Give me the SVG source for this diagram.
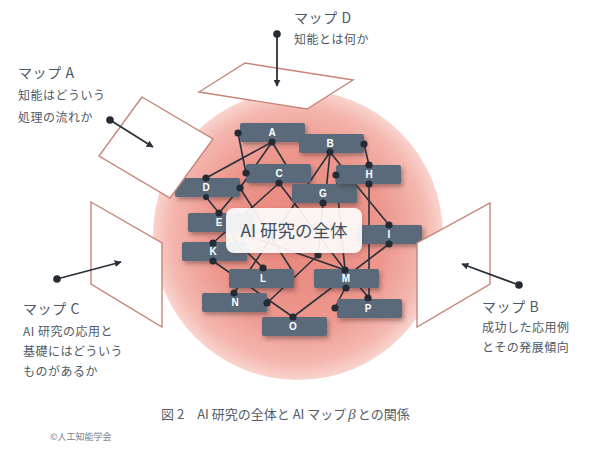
<svg xmlns="http://www.w3.org/2000/svg" width="590" height="450" viewBox="0 0 590 450">
<defs>
<radialGradient id="glow" cx="0.5" cy="0.5" r="0.5">
<stop offset="0" stop-color="#e8857a"/>
<stop offset="0.6" stop-color="#ed978d"/>
<stop offset="0.88" stop-color="#f4b7af"/>
<stop offset="1" stop-color="#f9d4ce"/>
</radialGradient>
<filter id="sh" x="-20%" y="-40%" width="150%" height="200%">
<feDropShadow dx="2" dy="3" stdDeviation="2" flood-color="#3a2020" flood-opacity="0.38"/>
</filter>
<filter id="sh2" x="-20%" y="-30%" width="140%" height="170%">
<feDropShadow dx="1" dy="2" stdDeviation="2.5" flood-color="#6a3030" flood-opacity="0.25"/>
</filter>
<marker id="ah" viewBox="0 0 10 10" refX="9" refY="5" markerWidth="7" markerHeight="7" orient="auto" markerUnits="userSpaceOnUse">
<path d="M0,0 L10,5 L0,10 z" fill="#2a313b"/>
</marker>
</defs>
<style>
.node rect{fill:#5a6a7a;filter:url(#sh)}
.node text{fill:#ffffff;font-family:"Liberation Sans",Arial,sans-serif;font-weight:bold;font-size:10px;text-anchor:middle}
.edges line{stroke:#29313b;stroke-width:1.6}
.dot{fill:#242b35}
.plane{fill:#ffffff;stroke:#c7857a;stroke-width:1.4;stroke-linejoin:miter}
.arrow{stroke:#2a313b;stroke-width:1.8;marker-end:url(#ah)}
.t1{font-family:"Noto Sans CJK JP","Noto Sans",sans-serif;font-size:14px;fill:#4f5a66;letter-spacing:0.6px}
.t2{font-family:"Noto Sans CJK JP","Noto Sans",sans-serif;font-size:12px;fill:#4f5a66;letter-spacing:0.5px}
.cap{font-family:"Noto Sans CJK JP","Noto Sans",sans-serif;font-size:13px;fill:#555d66}
.copy{font-family:"Noto Sans CJK JP","Noto Sans",sans-serif;font-size:9px;fill:#7a8088}
</style>

<circle cx="298" cy="235" r="145" fill="url(#glow)"/>

<g id="connectors" class="edges">
<line x1="238" y1="133" x2="246" y2="173"/>
<line x1="272" y1="142" x2="206" y2="178"/>
<line x1="272" y1="142" x2="240" y2="188"/>
<line x1="240" y1="188" x2="219" y2="213"/>
<line x1="272" y1="142" x2="288" y2="168"/>
<line x1="206" y1="197" x2="219" y2="213"/>
<line x1="279" y1="183" x2="213" y2="243"/>
<line x1="240" y1="188" x2="293" y2="272"/>
<line x1="279" y1="183" x2="345" y2="270"/>
<line x1="330" y1="152" x2="234" y2="293"/>
<line x1="330" y1="152" x2="326" y2="192"/>
<line x1="330" y1="152" x2="346" y2="172"/>
<line x1="364" y1="144" x2="369" y2="165"/>
<line x1="369" y1="184" x2="369" y2="298"/>
<line x1="336" y1="175" x2="345" y2="270"/>
<line x1="352" y1="180" x2="389" y2="225"/>
<line x1="389" y1="244" x2="293" y2="317"/>
<line x1="213" y1="261" x2="293" y2="317"/>
<line x1="267" y1="303" x2="318" y2="255"/>
<line x1="323" y1="203" x2="318" y2="255"/>
<line x1="345" y1="288" x2="335" y2="308"/>
<line x1="345" y1="270" x2="369" y2="298"/>
<line x1="240" y1="233" x2="345" y2="270"/>
<line x1="232" y1="237" x2="263" y2="268"/>
</g>

<g id="node-A" class="node"><rect x="240" y="123" width="65" height="19" rx="2"/><text x="272" y="136">A</text></g>
<g id="node-B" class="node"><rect x="299" y="134" width="65" height="19" rx="2"/><text x="330" y="147">B</text></g>
<g id="node-C" class="node"><rect x="246" y="164" width="65" height="19" rx="2"/><text x="279" y="177">C</text></g>
<g id="node-D" class="node"><rect x="175" y="178" width="65" height="19" rx="2"/><text x="206" y="191">D</text></g>
<g id="node-G" class="node"><rect x="292" y="184" width="65" height="19" rx="2"/><text x="323" y="197">G</text></g>
<g id="node-H" class="node"><rect x="336" y="165" width="65" height="19" rx="2"/><text x="369" y="178">H</text></g>
<g id="node-E" class="node"><rect x="188" y="213" width="65" height="19" rx="2"/><text x="219" y="226">E</text></g>
<g id="node-I" class="node"><rect x="357" y="225" width="65" height="19" rx="2"/><text x="389" y="238">I</text></g>
<g id="node-K" class="node"><rect x="182" y="242" width="65" height="19" rx="2"/><text x="213" y="255">K</text></g>
<g id="node-L" class="node"><rect x="229" y="269" width="65" height="19" rx="2"/><text x="263" y="282">L</text></g>
<g id="node-M" class="node"><rect x="314" y="269" width="65" height="19" rx="2"/><text x="346" y="282">M</text></g>
<g id="node-N" class="node"><rect x="202" y="293" width="65" height="19" rx="2"/><text x="235" y="306">N</text></g>
<g id="node-P" class="node"><rect x="337" y="299" width="65" height="19" rx="2"/><text x="368" y="312">P</text></g>
<g id="node-O" class="node"><rect x="262" y="317" width="65" height="19" rx="2"/><text x="293" y="330">O</text></g>

<g id="dots" class="dot">
<circle cx="238" cy="133" r="3.6"/>
<circle cx="272" cy="142" r="3.6"/>
<circle cx="330" cy="152" r="3.6"/>
<circle cx="364" cy="144" r="3.6"/>
<circle cx="246" cy="173" r="3.6"/>
<circle cx="279" cy="183" r="3.6"/>
<circle cx="206" cy="178" r="3.6"/>
<circle cx="240" cy="188" r="3.6"/>
<circle cx="206" cy="197" r="3"/>
<circle cx="219" cy="213" r="3.6"/>
<circle cx="323" cy="203" r="3.6"/>
<circle cx="369" cy="165" r="3.6"/>
<circle cx="369" cy="184" r="3.6"/>
<circle cx="336" cy="175" r="3.6"/>
<circle cx="389" cy="225" r="3.6"/>
<circle cx="389" cy="244" r="3.6"/>
<circle cx="213" cy="243" r="3.6"/>
<circle cx="213" cy="261" r="3.6"/>
<circle cx="263" cy="268" r="3.6"/>
<circle cx="345" cy="270" r="3.6"/>
<circle cx="346" cy="288" r="3.6"/>
<circle cx="234" cy="293" r="3.6"/>
<circle cx="267" cy="303" r="3.6"/>
<circle cx="293" cy="317" r="3.6"/>
<circle cx="368" cy="298" r="3.6"/>
<circle cx="335" cy="308" r="3.6"/>
<circle cx="318" cy="255" r="3.6"/>
</g>

<g id="center-label">
<rect x="226" y="208" width="136" height="45" rx="8" fill="#ffffff" fill-opacity="0.9" filter="url(#sh2)"/>
<text x="294" y="237" text-anchor="middle" font-family="Noto Sans CJK JP, Noto Sans, sans-serif" font-size="17.5" fill="#434e59">AI 研究の全体</text>
</g>

<g id="map-A">
<polygon class="plane" points="142,97 213,139 170,198 99,156"/>
<line class="arrow" x1="110" y1="120" x2="153" y2="147"/>
<circle class="dot" cx="110" cy="120" r="3.8"/>
<text class="t1" x="18" y="78">マップ A</text>
<text class="t2" x="18" y="100">知能はどういう</text>
<text class="t2" x="18" y="122">処理の流れか</text>
</g>

<g id="map-D">
<polygon class="plane" points="199,92 245,63 353,80 307,109"/>
<line class="arrow" x1="277" y1="34" x2="277" y2="86"/>
<circle class="dot" cx="277" cy="34" r="3.8"/>
<text class="t1" x="294" y="23">マップ D</text>
<text class="t2" x="294" y="44">知能とは何か</text>
</g>

<g id="map-C">
<polygon class="plane" points="91,202 162,243 162,327 91,284"/>
<line class="arrow" x1="57" y1="279" x2="121" y2="262"/>
<circle class="dot" cx="57" cy="279" r="3.8"/>
<text class="t1" x="23" y="314">マップ C</text>
<text class="t2" x="23" y="336">AI 研究の応用と</text>
<text class="t2" x="23" y="356">基礎にはどういう</text>
<text class="t2" x="23" y="376">ものがあるか</text>
</g>

<g id="map-B">
<polygon class="plane" points="490,203 490,284 417,327 417,243"/>
<line class="arrow" x1="519" y1="285" x2="462" y2="264"/>
<circle class="dot" cx="519" cy="285" r="3.8"/>
<text class="t1" x="482" y="312">マップ B</text>
<text class="t2" x="482" y="332">成功した応用例</text>
<text class="t2" x="482" y="352">とその発展傾向</text>
</g>

<text class="cap" x="161" y="419">図 2　AI 研究の全体と AI マップ<tspan font-family="Liberation Serif, serif" font-style="italic" font-size="15" dx="2">β</tspan><tspan dx="2">との関係</tspan></text>
<text class="copy" x="50" y="440">©人工知能学会</text>
</svg>
